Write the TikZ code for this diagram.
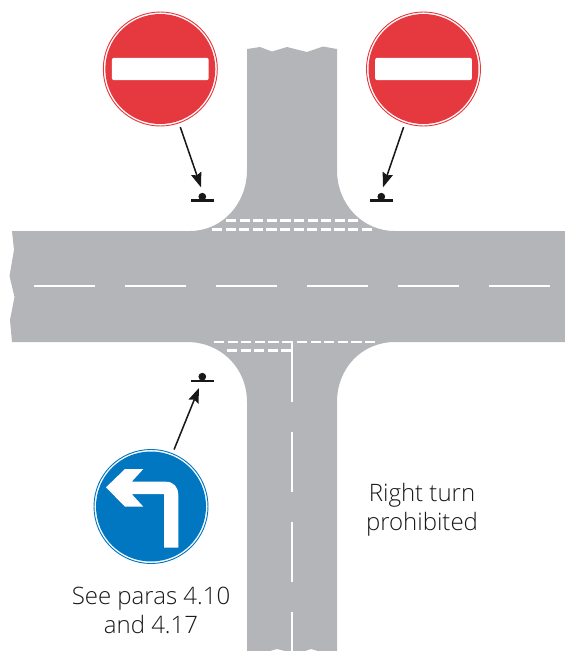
\documentclass[tikz,border=0pt]{standalone}
\usepackage{fontspec}
\setmainfont{Open Sans Light}[BoldFont={Open Sans}]
\usepackage{tikz}
\usetikzlibrary{arrows.meta,positioning}
\definecolor{roadgrey}{HTML}{B4B5B8}
\definecolor{signred}{HTML}{E6393F}
\definecolor{signblue}{HTML}{0077C0}
\definecolor{inkblack}{HTML}{1A1718}

\begin{document}
\begin{tikzpicture}[
  x=0.75pt, y=-0.75pt,
  rim/.style={circle, draw=#1, line width=0.7pt, fill=white, minimum size=85.5pt, inner sep=0pt},
  disc/.style={circle, fill=#1, minimum size=82.5pt, inner sep=0pt},
  bar/.style={rectangle, rounded corners=1.5pt, fill=white, minimum width=72.5pt, minimum height=16.8pt, inner sep=0pt},
  knob/.style={circle, fill=inkblack, minimum size=5.8pt, inner sep=0pt},
  base/.style={line width=2pt, inkblack},
  pointer/.style={-{Stealth[length=11pt, width=8pt, inset=1.5pt]}, line width=1.15pt, inkblack, shorten <=3pt},
  centreline/.style={white, line width=1.5pt, dash pattern=on 45.75pt off 22.5pt},
  giveway/.style={white, line width=1.9pt, dash pattern=on 7.65pt off 2.55pt},
  caption/.style={align=center, font=\fontsize{18}{21.75}\selectfont, text=inkblack}
]
\useasboundingbox (0,0) rectangle (565,651);

% road
\fill[roadgrey] (247,49) -- (260,47) -- (272,51.5) -- (287,47) -- (307,52) -- (323,46.5) -- (337,49)
  -- (337,170) .. controls (337,204) and (362,231) .. (395,231)
  -- (565,231) -- (565,342) -- (395,342)
  .. controls (362,342) and (337,368) .. (337,402)
  -- (337,651) -- (318,651) -- (311,649) -- (305,651) -- (285,651) -- (277,649) -- (270,651) -- (247,651)
  -- (247,402) .. controls (247,368) and (221,342) .. (187,342)
  -- (12,342) -- (10,320) -- (14.5,297) -- (9.5,276) -- (14,250) -- (12,231)
  -- (190,231) .. controls (222,231) and (247,204) .. (247,170) -- cycle;

% centre lines
\draw[centreline] (34,286) -- (550,286);
\draw[centreline] (292,341) -- (292,402);
\draw[centreline] (292,432) -- (292,492);
\draw[centreline] (292,522) -- (292,582);
\draw[centreline] (292,612) -- (292,651);

% junction markings
\draw[giveway] (226,220.7) -- (358,220.7);
\draw[giveway] (212,229.3) -- (372,229.3);
\draw[giveway] (214,342) -- (291,342);
\draw[giveway] (227,350.5) -- (291,350.5);
\draw[giveway] (297,342) -- (375,342);

% signs
\node[rim=signred] (redleft) at (160.3,69) {};
\node[disc=signred] (discleft) at (redleft) {};
\node[bar] (barleft) at (redleft) {};
\node[rim=signred] (redright) at (423.5,69) {};
\node[disc=signred] (discright) at (redright) {};
\node[bar] (barright) at (redright) {};
\node[rim=signblue] (turnleft) at (151,506.5) {};
\node[disc=signblue] (discturn) at (turnleft) {};
\fill[white] (106,487.3) -- (125,469) -- (143.3,469) -- (131.7,481.7) -- (166,481.7)
  .. controls (173.5,481.7) and (178.3,487) .. (178.3,495)
  -- (178.3,547.7) -- (164,547.7) -- (164,494) -- (131.7,494) -- (143.3,506.7) -- (125,506.7) -- cycle;

% posts
\node[knob] (postleft) at (202.3,196.7) {};
\draw[base] (191,200.7) -- (214,200.7);
\node[knob] (postright) at (381.3,196.7) {};
\draw[base] (370,200.7) -- (393,200.7);
\node[knob] (postturn) at (202.3,376.7) {};
\draw[base] (191,381) -- (214,381);

% pointers
\coordinate (tipleft) at (201,187.3);
\coordinate (tipright) at (383,187.3);
\coordinate (tipturn) at (199,388);
\draw[pointer] (redleft) -- (tipleft);
\draw[pointer] (redright) -- (tipright);
\draw[pointer] (turnleft) -- (tipturn);

% text
\node[caption] (seepara) at (151,610) {See paras 4.10\\and 4.17};
\node[caption] (noright) at (422,509.5) {Right turn\\prohibited};
\end{tikzpicture}
\end{document}
